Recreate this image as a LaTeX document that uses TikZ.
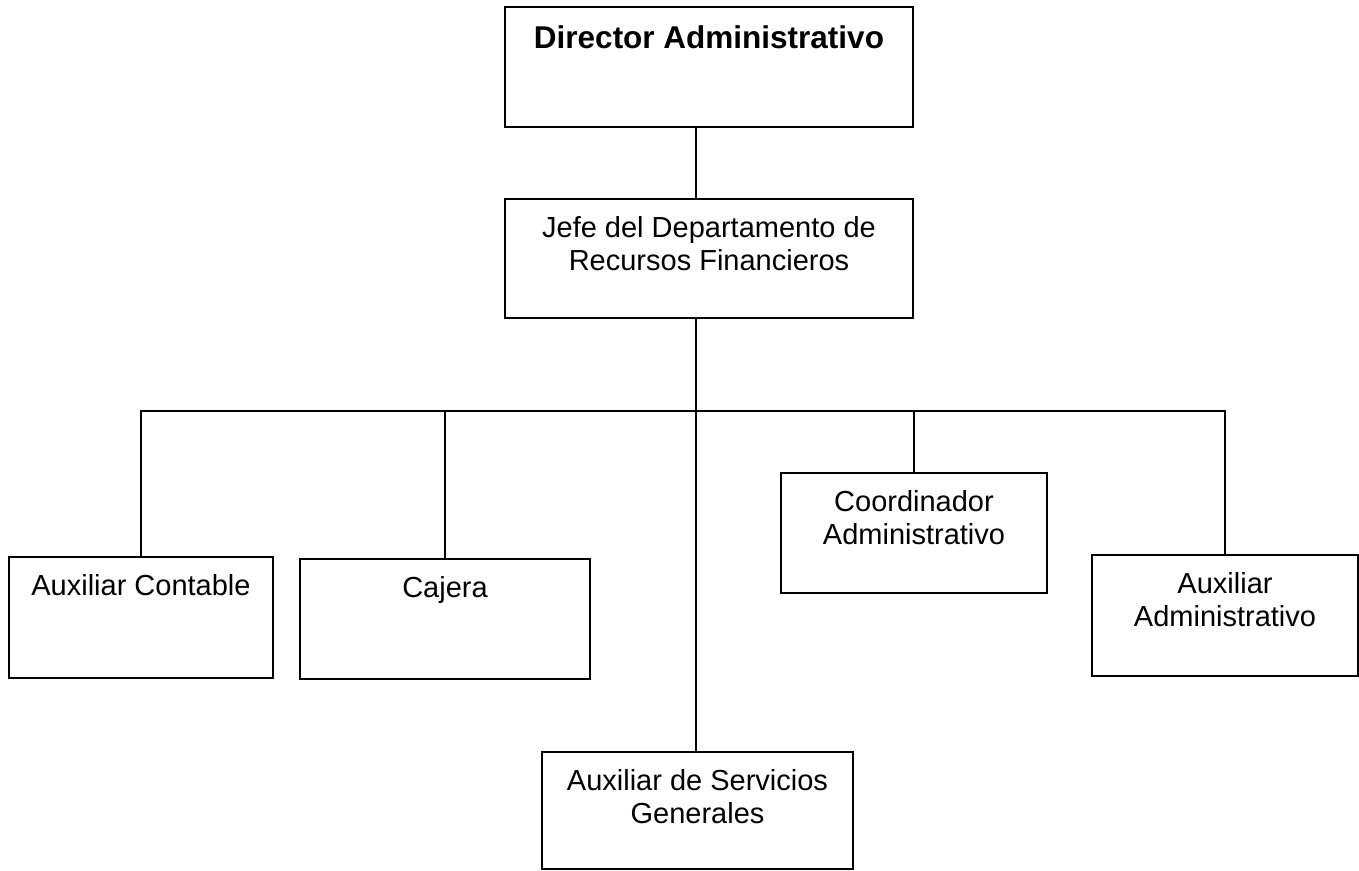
\documentclass[tikz,border=0pt]{standalone}
\usepackage{fontspec}
\setmainfont{Liberation Sans}
\newcommand{\boxtext}[4][38pt]{\begin{minipage}[t][#3][t]{#2}\centering\rule{0pt}{#1}#4\end{minipage}}
\begin{document}
\begin{tikzpicture}[x=1pt,y=-1pt,
  orgbox/.style={draw, line width=2pt, inner sep=0pt, anchor=north west,
    font=\fontsize{29}{33}\selectfont},
  conn/.style={line width=2pt}]
\useasboundingbox (0,0) rectangle (1359,870);
\node[orgbox, font=\fontsize{31.5}{34}\selectfont\bfseries] (dir) at (504,6) {\boxtext[41pt]{408pt}{120pt}{Director Administrativo}};
\node[orgbox] (jefe) at (504,198) {\boxtext{408pt}{119pt}{Jefe del Departamento de\\Recursos Financieros}};
\node[orgbox] (auxc) at (8,556) {\boxtext{264pt}{121pt}{Auxiliar Contable}};
\node[orgbox] (caj) at (299,558) {\boxtext{290pt}{120pt}{Cajera}};
\node[orgbox] (coord) at (780,472) {\boxtext{266pt}{120pt}{Coordinador\\Administrativo}};
\node[orgbox] (auxa) at (1091,554) {\boxtext{266pt}{121pt}{Auxiliar\\Administrativo}};
\node[orgbox] (auxs) at (541,751) {\boxtext{311pt}{117pt}{Auxiliar de Servicios\\Generales}};
\coordinate (bus) at (696,411);
\draw[conn] (dir.south -| bus) -- (jefe.north -| bus);
\draw[conn] (jefe.south -| bus) -- (auxs.north -| bus);
\draw[conn] (auxc.north) |- (auxa.north |- bus) -- (auxa.north);
\draw[conn] (caj.north) -- (caj.north |- bus);
\draw[conn] (coord.north) -- (coord.north |- bus);
\end{tikzpicture}
\end{document}
